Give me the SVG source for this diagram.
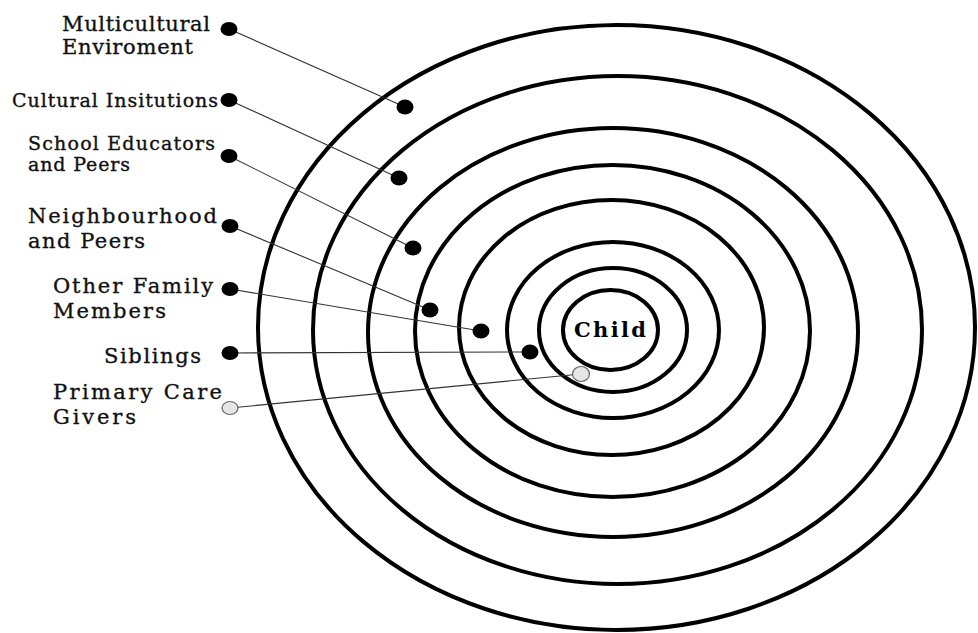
<svg xmlns="http://www.w3.org/2000/svg" width="978" height="633" viewBox="0 0 978 633">
<style>
  .ring { fill: none; stroke: #000; stroke-width: 4; }
  .conn { stroke: #333; stroke-width: 1.1; fill: none; }
  .dot { fill: #000; }
  .hollow { fill: #e6e6e6; stroke: #666; stroke-width: 1.2; }
  .lbl { font-family: "DejaVu Serif", "Liberation Serif", serif; font-size: 21px; fill: #111; stroke: #111; stroke-width: 0.35; }
  .sm { font-size: 19px; }
  .child { font-family: "DejaVu Serif", "Liberation Serif", serif; font-size: 21px; font-weight: bold; fill: #000; }
</style>
<rect width="978" height="633" fill="#fff"/>
<g id="rings">
  <ellipse id="ring-multicultural" class="ring" cx="616.5" cy="327.5" rx="358.5" ry="302.5"/>
  <ellipse id="ring-cultural" class="ring" cx="617.5" cy="330" rx="304.5" ry="254"/>
  <ellipse id="ring-school" class="ring" cx="613" cy="332.5" rx="245" ry="204.5"/>
  <ellipse id="ring-neighbourhood" class="ring" cx="612.5" cy="331" rx="197.5" ry="166"/>
  <ellipse id="ring-family" class="ring" cx="611.5" cy="327.5" rx="152.5" ry="127.5"/>
  <ellipse id="ring-siblings" class="ring" cx="613" cy="330" rx="106" ry="88"/>
  <ellipse id="ring-primary" class="ring" cx="613" cy="330" rx="74" ry="62"/>
</g>
<g id="child">
  <ellipse class="ring" cx="610.5" cy="330" rx="47.5" ry="40"/>
  <text class="child" x="574" y="337" textLength="72" lengthAdjust="spacing">Child</text>
</g>
<g id="connectors">
  <line class="conn" x1="229" y1="29" x2="405" y2="107"/>
  <line class="conn" x1="229" y1="100" x2="399" y2="178"/>
  <line class="conn" x1="229" y1="156" x2="413" y2="248"/>
  <line class="conn" x1="230" y1="226" x2="430" y2="310"/>
  <line class="conn" x1="230" y1="289" x2="481" y2="331"/>
  <line class="conn" x1="230" y1="353" x2="530" y2="352"/>
  <line class="conn" x1="230" y1="408" x2="581" y2="374"/>
</g>
<g id="multicultural">
  <text class="lbl" x="62" y="31" textLength="148" lengthAdjust="spacing">Multicultural</text>
  <text class="lbl" x="62" y="54" textLength="131" lengthAdjust="spacing">Enviroment</text>
  <ellipse class="dot" cx="229" cy="29" rx="8.5" ry="7"/>
  <ellipse class="dot" cx="405" cy="107" rx="8.5" ry="7.5"/>
</g>
<g id="cultural">
  <text class="lbl sm" x="12" y="107" textLength="206" lengthAdjust="spacing">Cultural Insitutions</text>
  <ellipse class="dot" cx="229" cy="100" rx="8.5" ry="7"/>
  <ellipse class="dot" cx="399" cy="178" rx="8.5" ry="7.5"/>
</g>
<g id="school">
  <text class="lbl sm" x="28" y="150" textLength="187" lengthAdjust="spacing">School Educators</text>
  <text class="lbl sm" x="28" y="171" textLength="102" lengthAdjust="spacing">and Peers</text>
  <ellipse class="dot" cx="229" cy="156" rx="8.5" ry="7"/>
  <ellipse class="dot" cx="413" cy="248" rx="8.5" ry="7.5"/>
</g>
<g id="neighbourhood">
  <text class="lbl" x="28" y="223" textLength="189" lengthAdjust="spacing">Neighbourhood</text>
  <text class="lbl" x="28" y="248" textLength="117" lengthAdjust="spacing">and Peers</text>
  <ellipse class="dot" cx="230" cy="226" rx="8.5" ry="7"/>
  <ellipse class="dot" cx="430" cy="310" rx="8.5" ry="7.5"/>
</g>
<g id="family">
  <text class="lbl" x="53" y="293" textLength="160" lengthAdjust="spacing">Other Family</text>
  <text class="lbl" x="53" y="318" textLength="113" lengthAdjust="spacing">Members</text>
  <ellipse class="dot" cx="230" cy="289" rx="8.5" ry="7"/>
  <ellipse class="dot" cx="481" cy="331" rx="8.5" ry="7.5"/>
</g>
<g id="siblings">
  <text class="lbl" x="104" y="363" textLength="97" lengthAdjust="spacing">Siblings</text>
  <ellipse class="dot" cx="230" cy="353" rx="8.5" ry="7"/>
  <ellipse class="dot" cx="530" cy="352" rx="8.5" ry="7.5"/>
</g>
<g id="primary">
  <text class="lbl" x="53" y="399" textLength="169" lengthAdjust="spacing">Primary Care</text>
  <text class="lbl" x="53" y="424" textLength="83" lengthAdjust="spacing">Givers</text>
  <ellipse class="hollow" cx="230" cy="408" rx="8" ry="6.5"/>
  <ellipse class="hollow" cx="581" cy="374" rx="8.5" ry="7.5"/>
</g>
</svg>
